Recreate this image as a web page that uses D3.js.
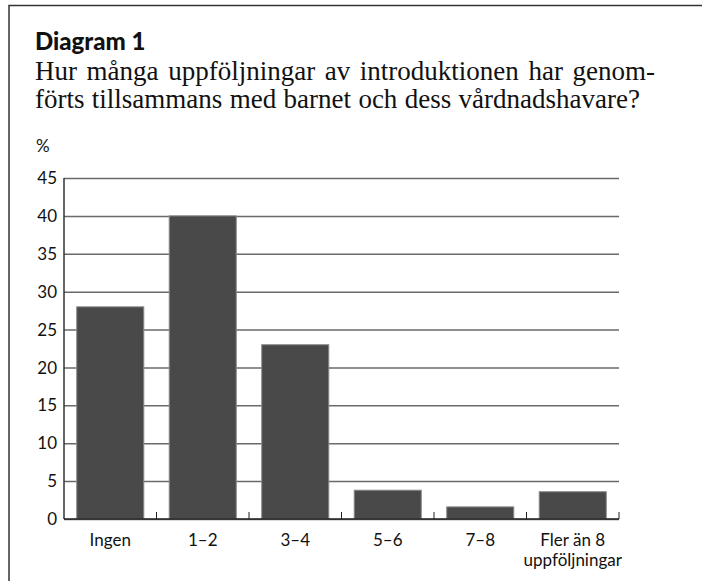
<!DOCTYPE html>
<html lang="sv">
<head>
    <meta charset="UTF-8">
    <title>Diagram 1</title>
    <style>
        body { margin: 0; background: #fff; }
        svg { display: block; }
    </style>
    <script src="https://cdn.jsdelivr.net/npm/d3@7/dist/d3.min.js"></script>
</head>
<body>
    <script>
        const categories = ['Ingen', '1–2', '3–4', '5–6', '7–8', 'Fler än 8|uppföljningar']
        const values = [28, 40, 23, 3.8, 1.6, 3.6]
        const yTicks = [0, 5, 10, 15, 20, 25, 30, 35, 40, 45]

        const width = 702
        const height = 581
        const margin = { top: 178, left: 64, bottom: 62, right: 83 }
        const sans = 'Lato, "Open Sans", sans-serif'
        const serif = '"Liberation Serif", "DejaVu Serif", serif'

        const svg = d3.select('body').append('svg').attr('width', width).attr('height', height)

        // frame, open to the right and bottom
        svg.append('path')
            .attr('d', `M9,${height + 5} V5.5 H${width + 5}`)
            .attr('fill', 'none').attr('stroke', '#333').attr('stroke-width', 1.5)

        svg.append('text')
            .attr('x', 35).attr('y', 50)
            .attr('font-family', sans).attr('font-weight', 900).attr('font-size', 24)
            .attr('fill', '#111')
            .text('Diagram 1')

        // question text; first line justified with word spacing
        const lines = [
            { t: 'Hur många uppföljningar av introduktionen har genom-', y: 80, w: 620 },
            { t: 'förts tillsammans med barnet och dess vårdnadshavare?', y: 108, w: 605 }
        ]
        lines.forEach(l => {
            const el = svg.append('text')
                .attr('x', 35).attr('y', l.y)
                .attr('font-family', serif).attr('font-size', 27).attr('fill', '#111')
                .text(l.t)
            const natural = el.node().getComputedTextLength()
            const gaps = l.t.split(' ').length - 1
            el.attr('word-spacing', Math.max(0, (l.w - natural) / gaps))
        })

        svg.append('text')
            .attr('x', 36).attr('y', 152)
            .attr('font-family', sans).attr('font-size', 17).attr('fill', '#111')
            .text('%')

        const x = d3.scaleBand().domain(categories)
            .range([margin.left, width - margin.right]).paddingInner(0.275).paddingOuter(0.1375)
        const xEdges = d3.scaleBand().domain(categories).range([margin.left, width - margin.right])
        const y = d3.scaleLinear().domain([0, 45]).range([height - margin.bottom, margin.top])

        // gridlines
        svg.append('g')
            .attr('transform', `translate(${margin.left},0)`)
            .call(d3.axisLeft(y).tickValues(yTicks).tickSize(-(width - margin.left - margin.right)).tickFormat(''))
            .call(g => g.select('.domain').remove())
            .call(g => g.selectAll('line').attr('stroke', '#6a6a6a').attr('stroke-width', 1.5))

        // y labels
        svg.append('g')
            .selectAll('text')
            .data(yTicks)
            .enter()
            .append('text')
            .attr('x', 57).attr('y', d => y(d))
            .attr('dy', '0.36em')
            .attr('text-anchor', 'end')
            .attr('font-family', sans).attr('font-size', 17).attr('fill', '#111')
            .text(d => d)

        svg.append('line')
            .attr('x1', margin.left).attr('x2', margin.left)
            .attr('y1', y(45)).attr('y2', y(0))
            .attr('stroke', '#333').attr('stroke-width', 1.5)

        // bars
        svg.append('g')
            .selectAll('rect')
            .data(values)
            .enter()
            .append('rect')
            .attr('x', (d, i) => x(categories[i]))
            .attr('y', d => y(d))
            .attr('width', x.bandwidth())
            .attr('height', d => y(0) - y(d))
            .attr('fill', '#494949')
            .attr('stroke', '#8a8a8a').attr('stroke-width', 1)

        // x axis with inward ticks at band edges
        svg.append('line')
            .attr('x1', margin.left).attr('x2', width - margin.right)
            .attr('y1', y(0)).attr('y2', y(0))
            .attr('stroke', '#222').attr('stroke-width', 1.5)
        svg.append('g')
            .selectAll('line')
            .data(categories)
            .enter()
            .append('line')
            .attr('x1', d => xEdges(d) + xEdges.bandwidth())
            .attr('x2', d => xEdges(d) + xEdges.bandwidth())
            .attr('y1', y(0)).attr('y2', y(0) - 7)
            .attr('stroke', '#222').attr('stroke-width', 1)

        const xl = svg.append('g')
            .selectAll('text')
            .data(categories)
            .enter()
            .append('text')
            .attr('x', d => xEdges(d) + xEdges.bandwidth() / 2)
            .attr('y', 546)
            .attr('text-anchor', 'middle')
            .attr('font-family', sans).attr('font-size', 17).attr('fill', '#111')
        xl.selectAll('tspan')
            .data(d => d.split('|').map(s => ({ s, cx: xEdges(d) + xEdges.bandwidth() / 2 })))
            .enter()
            .append('tspan')
            .attr('x', t => t.cx)
            .attr('dy', (t, i) => i === 0 ? 0 : 20)
            .text(t => t.s)
    </script>
</body>
</html>
